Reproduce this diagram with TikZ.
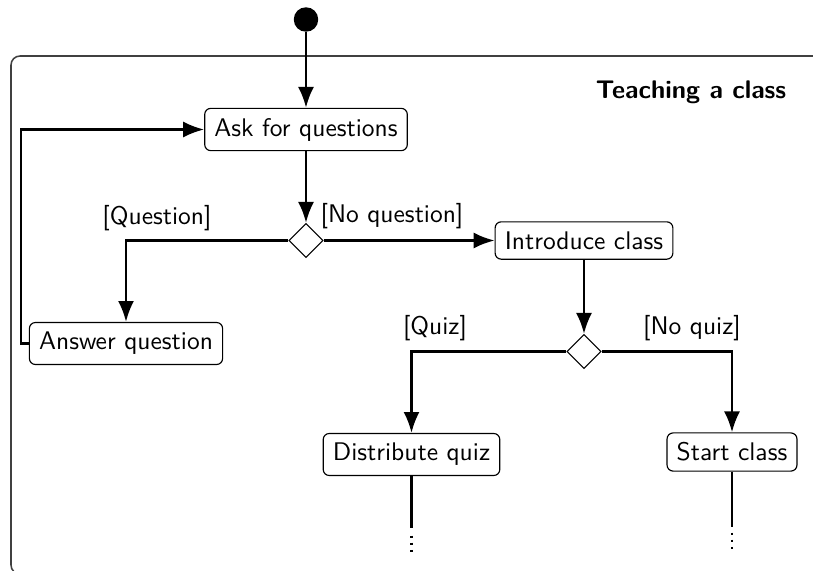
\documentclass[tikz,border=0pt]{standalone}
\usetikzlibrary{arrows.meta,shapes.geometric}
\begin{document}
\begin{tikzpicture}[x=0.39216pt,y=-0.39216pt,
  every node/.style={font=\sffamily},
  act/.style={draw, line width=0.45pt, rounded corners=2.4pt, inner sep=3.8pt},
  decision/.style={draw, line width=0.45pt, diamond, shape aspect=1, inner sep=0pt, minimum width=13.4pt, minimum height=13.4pt, fill=white},
  initial/.style={circle, fill=black, inner sep=0pt, minimum size=9.6pt},
  flow/.style={-{Latex[length=8.2pt,width=6.3pt]}, line width=1pt},
  plain/.style={line width=1pt},
  guard/.style={inner sep=0pt},
  frame/.style={draw=black!75, line width=0.6pt, rounded corners=3.5pt},
  contdots/.style={line width=0.9pt, dash pattern=on 0.9pt off 1.9pt}]
\useasboundingbox (0,0) rectangle (813,571);
% frame
\draw[frame] (11,56) rectangle (840,574);
\node[font=\sffamily\bfseries, guard] (title) at (691,92) {Teaching a class};
% nodes
\node[initial] (init) at (306,19.5) {};
\node[act] (ask) at (306,129.5) {Ask for questions};
\node[decision] (d1) at (306,240.5) {};
\node[act] (intro) at (584,240.5) {Introduce class};
\node[act] (ans) at (126,343.5) {Answer question};
\node[decision] (d2) at (584,351.5) {};
\node[act] (dist) at (411.5,454.5) {Distribute quiz};
\node[act] (startc) at (732,452) {Start class};
% guards
\node[guard] (gq) at (157,218.5) {[Question]};
\node[guard] (gnq) at (392,216) {[No question]};
\node[guard] (gz) at (435,328) {[Quiz]};
\node[guard] (gnz) at (692,328) {[No quiz]};
% connectors
\draw[flow] (init) -- (ask);
\draw[flow] (ask) -- (d1);
\draw[flow] (d1.east) -- (intro.west);
\draw[flow] (d1.west) -| (ans.north);
\draw[flow] (ans.west) -- ++(-8,0) |- (ask.west);
\draw[flow] (intro.south -| d2.north) -- (d2.north);
\draw[flow] (d2.west) -| (dist.north);
\draw[flow] (d2.east) -| (startc.north);
% continuation
\coordinate (c1) at (411.5,528);
\coordinate (c1a) at (411.5,535.5);
\coordinate (c1b) at (411.5,553);
\coordinate (c2) at (732,527);
\coordinate (c2a) at (732,532.5);
\coordinate (c2b) at (732,551);
\draw[plain] (dist.south) -- (c1);
\draw[plain] (startc.south) -- (c2);
\draw[contdots] (c1a) -- (c1b);
\draw[contdots] (c2a) -- (c2b);
\end{tikzpicture}
\end{document}
